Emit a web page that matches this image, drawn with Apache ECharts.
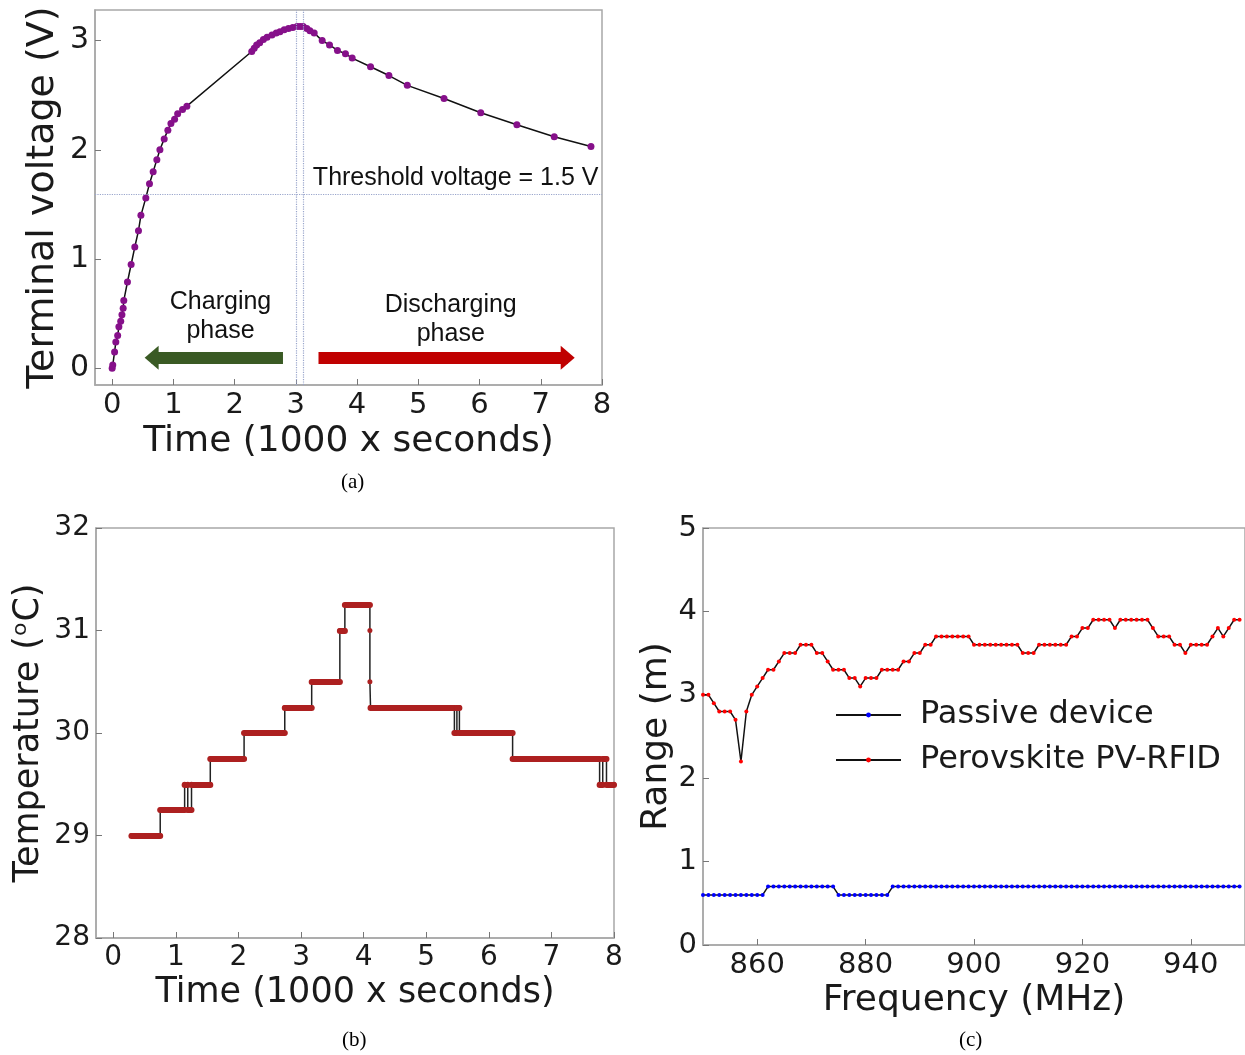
<!DOCTYPE html>
<html>
<head>
<meta charset="UTF-8">
<title>Perovskite PV-RFID</title>
<script src="https://cdn.jsdelivr.net/npm/echarts@6/dist/echarts.min.js"></script>
<style>html,body{margin:0;padding:0;background:#fff;}</style>
</head>
<body>
<div id="main" style="width:1245px;height:1055px"></div>
<script>
// (a) terminal voltage vs time (1000 x s)
var timeA = [0.00, 0.01, 0.04, 0.06, 0.09, 0.11, 0.14, 0.16, 0.18, 0.19, 0.25, 0.31, 0.37, 0.43, 0.47, 0.55, 0.61,
  0.67, 0.73, 0.78, 0.85, 0.91, 0.96, 1.02, 1.07, 1.15, 1.22,
  2.28, 2.32, 2.36, 2.41, 2.47, 2.53, 2.61, 2.68, 2.74, 2.81, 2.88, 2.95, 3.02, 3.07, 3.12,
  3.18, 3.23, 3.30, 3.43, 3.55, 3.68, 3.81, 3.92, 4.22, 4.52, 4.82, 5.42, 6.02, 6.61, 7.22, 7.82];
var voltA = [0.00, 0.03, 0.15, 0.24, 0.30, 0.38, 0.43, 0.49, 0.55, 0.62, 0.79, 0.95, 1.11, 1.26, 1.40, 1.56, 1.69,
  1.80, 1.91, 2.00, 2.10, 2.18, 2.24, 2.28, 2.33, 2.37, 2.40,
  2.90, 2.93, 2.96, 2.98, 3.01, 3.03, 3.05, 3.07, 3.08, 3.10, 3.11, 3.12, 3.13, 3.13, 3.13,
  3.11, 3.09, 3.07, 3.00, 2.96, 2.91, 2.88, 2.84, 2.76, 2.68, 2.59, 2.47, 2.34, 2.23, 2.12, 2.03];
var thresholdLine = 1.59;
var phaseLines = [3.00, 3.12];
var chargeArrow = [2.79, 0.645, 0.096];     // tail t, head t, voltage
var dischargeArrow = [3.37, 7.44, 0.096];

// (b) temperature steps (path vertices)
var timeB = [0.29, 0.75, 0.75, 1.14, 1.14, 1.19, 1.19, 1.25, 1.25, 1.55,
  1.55, 2.09, 2.09, 2.74, 2.74, 3.17, 3.17, 3.62, 3.62, 3.70,
  3.70, 4.10, 4.10, 4.10, 4.11, 5.45, 5.45, 5.49, 5.49, 5.53,
  5.53, 6.38, 6.38, 7.77, 7.77, 7.82, 7.82, 7.88, 7.88, 8.00];
var tempB = [29.0, 29.0, 29.25, 29.25, 29.5, 29.5, 29.25, 29.25, 29.5, 29.5,
  29.75, 29.75, 30.0, 30.0, 30.25, 30.25, 30.5, 30.5, 31.0, 31.0,
  31.25, 31.25, 31.0, 30.5, 30.25, 30.25, 30.0, 30.0, 30.25, 30.25,
  30.0, 30.0, 29.75, 29.75, 29.5, 29.5, 29.75, 29.75, 29.5, 29.5];

// (c) read range vs frequency, 1 MHz steps from 850 MHz
var freqStart = 850;
var passive = [0.6, 0.6, 0.6, 0.6, 0.6, 0.6, 0.6, 0.6, 0.6, 0.6, 0.6, 0.6,
  0.7, 0.7, 0.7, 0.7, 0.7, 0.7, 0.7, 0.7, 0.7, 0.7, 0.7, 0.7, 0.7,
  0.6, 0.6, 0.6, 0.6, 0.6, 0.6, 0.6, 0.6, 0.6, 0.6,
  0.7, 0.7, 0.7, 0.7, 0.7, 0.7, 0.7, 0.7, 0.7, 0.7, 0.7, 0.7, 0.7, 0.7, 0.7, 0.7, 0.7, 0.7, 0.7, 0.7,
  0.7, 0.7, 0.7, 0.7, 0.7, 0.7, 0.7, 0.7, 0.7, 0.7, 0.7, 0.7, 0.7, 0.7, 0.7, 0.7, 0.7, 0.7, 0.7, 0.7,
  0.7, 0.7, 0.7, 0.7, 0.7, 0.7, 0.7, 0.7, 0.7, 0.7, 0.7, 0.7, 0.7, 0.7, 0.7, 0.7, 0.7, 0.7, 0.7, 0.7,
  0.7, 0.7, 0.7, 0.7, 0.7];
var perovskite = [3.0, 3.0, 2.9, 2.8, 2.8, 2.8, 2.7, 2.2, 2.8, 3.0,
  3.1, 3.2, 3.3, 3.3, 3.4, 3.5, 3.5, 3.5, 3.6, 3.6,
  3.6, 3.5, 3.5, 3.4, 3.3, 3.3, 3.3, 3.2, 3.2, 3.1,
  3.2, 3.2, 3.2, 3.3, 3.3, 3.3, 3.3, 3.4, 3.4, 3.5,
  3.5, 3.6, 3.6, 3.7, 3.7, 3.7, 3.7, 3.7, 3.7, 3.7,
  3.6, 3.6, 3.6, 3.6, 3.6, 3.6, 3.6, 3.6, 3.6, 3.5,
  3.5, 3.5, 3.6, 3.6, 3.6, 3.6, 3.6, 3.6, 3.7, 3.7,
  3.8, 3.8, 3.9, 3.9, 3.9, 3.9, 3.8, 3.9, 3.9, 3.9,
  3.9, 3.9, 3.9, 3.8, 3.7, 3.7, 3.7, 3.6, 3.6, 3.5,
  3.6, 3.6, 3.6, 3.6, 3.7, 3.8, 3.7, 3.8, 3.9, 3.9];

var tickA = [0, 1, 2, 3, 4, 5, 6, 7, 8];
var tickAy = [0, 1, 2, 3];
var tickC = [860, 880, 900, 920, 940];

var FONT = 'DejaVu Sans';
var frame = '#a8a8a8';

var chart = echarts.init(document.getElementById('main'), null, {renderer: 'canvas'});

function zip(xs, ys) {
  return xs.map(function (x, i) { return [x, ys[i]]; });
}
var dataA = zip(timeA, voltA);
var dataB = zip(timeB, tempB);
var freq = passive.map(function (v, i) { return freqStart + i; });
var dataPassive = zip(freq, passive);
var dataPerov = zip(freq, perovskite);

// red plateaus of (b): horizontal pieces of the path
var plateausB = [];
for (var i = 0; i < dataB.length - 1; i++) {
  if (tempB[i] === tempB[i + 1] && timeB[i] !== timeB[i + 1]) {
    plateausB.push({coords: [dataB[i], dataB[i + 1]]});
  }
}

function xAx(grid, min, max, fs, name, gap, ticks) {
  var a = {
    type: 'value', gridIndex: grid, min: min, max: max,
    name: name, nameLocation: 'middle', nameGap: gap,
    nameTextStyle: {fontFamily: FONT, fontSize: fs + 7, color: '#1a1a1a'},
    axisLine: {onZero: false, lineStyle: {color: frame, width: 1.5}},
    axisTick: {inside: true, length: 6, lineStyle: {color: '#777'}},
    axisLabel: {fontFamily: FONT, fontSize: fs, color: '#1a1a1a', margin: 6},
    splitLine: {show: false}
  };
  if (ticks) {
    a.axisTick.customValues = ticks;
    a.axisLabel.customValues = ticks;
  } else {
    a.interval = 1;
  }
  return a;
}
function yAx(grid, min, max, fs, name, gap, ticks, nameFs) {
  var a = xAx(grid, min, max, fs, name, gap, ticks);
  a.nameTextStyle.fontSize = nameFs;
  return a;
}

var option = {
  animation: false,
  backgroundColor: '#fff',
  grid: [
    {left: 95, top: 10, width: 507, height: 375, show: true, borderColor: frame, borderWidth: 1.5},
    {left: 96, top: 528, width: 518, height: 410, show: true, borderColor: frame, borderWidth: 1.5},
    {left: 703, top: 528, width: 549, height: 417, show: true, borderColor: frame, borderWidth: 1.5}
  ],
  xAxis: [
    xAx(0, -0.28, 8, 29, 'Time (1000 x seconds)', 39, tickA),
    xAx(1, -0.276, 8, 28, 'Time (1000 x seconds)', 37, tickA),
    xAx(2, 850, 950, 29, 'Frequency (MHz)', 38, tickC)
  ],
  yAxis: [
    yAx(0, -0.153, 3.28, 30, 'Terminal voltage (V)', 33, tickAy, 38),
    yAx(1, 28, 32, 28, 'Temperature (ᵒC)', 50, null, 35),
    yAx(2, 0, 5, 29, 'Range (m)', 28, null, 36)
  ],
  legend: {
    orient: 'vertical', left: 830, top: 694, itemWidth: 65, itemHeight: 6, itemGap: 13,
    textStyle: {fontFamily: FONT, fontSize: 32, color: '#1a1a1a', padding: [0, 0, 0, 14]},
    data: ['Passive device', 'Perovskite PV-RFID']
  },
  graphic: [
    {type: 'text', left: 341, top: 472, style: {text: '(a)', font: '21px "Liberation Serif"', fill: '#000'}},
    {type: 'text', left: 342, top: 1030, style: {text: '(b)', font: '21px "Liberation Serif"', fill: '#000'}},
    {type: 'text', left: 959, top: 1030, style: {text: '(c)', font: '21px "Liberation Serif"', fill: '#000'}}
  ],
  series: [
    {
      type: 'line', xAxisIndex: 0, yAxisIndex: 0, data: dataA,
      symbol: 'circle', symbolSize: 7, showAllSymbol: true,
      itemStyle: {color: '#86108a'},
      lineStyle: {color: '#111', width: 1.5},
      z: 3,
      markLine: {
        silent: true, symbol: 'none', label: {show: false},
        lineStyle: {type: 'dotted', color: '#9aa6cc', width: 1.2},
        data: [{xAxis: phaseLines[0]}, {xAxis: phaseLines[1]}, {yAxis: thresholdLine}]
      },
      markPoint: {
        symbolSize: 0, silent: true,
        label: {show: true, position: 'inside', formatter: '{b}', color: '#111',
          fontFamily: 'Liberation Sans', fontSize: 25, lineHeight: 29},
        data: [
          {name: 'Threshold voltage = 1.5 V', coord: [5.61, 1.74]},
          {name: 'Charging\nphase', coord: [1.77, 0.47]},
          {name: 'Discharging\nphase', coord: [5.53, 0.45]}
        ]
      }
    },
    {
      type: 'line', xAxisIndex: 0, yAxisIndex: 0, data: [],
      markLine: {
        silent: true, label: {show: false}, symbol: ['none', 'triangle'], symbolSize: [24, 14],
        data: [
          [{coord: [chargeArrow[0], chargeArrow[2]], lineStyle: {color: '#3a5a24', width: 12, type: 'solid'}, itemStyle: {color: '#3a5a24'}},
           {coord: [chargeArrow[1], chargeArrow[2]]}],
          [{coord: [dischargeArrow[0], dischargeArrow[2]], lineStyle: {color: '#c00000', width: 12, type: 'solid'}, itemStyle: {color: '#c00000'}},
           {coord: [dischargeArrow[1], dischargeArrow[2]]}]
        ]
      }
    },
    {
      type: 'line', xAxisIndex: 1, yAxisIndex: 1, data: dataB,
      symbol: 'circle', symbolSize: 5, showAllSymbol: true,
      itemStyle: {color: '#ad2020'},
      lineStyle: {color: '#222', width: 1.5}, z: 2
    },
    {
      type: 'lines', coordinateSystem: 'cartesian2d', xAxisIndex: 1, yAxisIndex: 1,
      data: plateausB, z: 3,
      lineStyle: {color: '#ad2020', width: 6, opacity: 1, cap: 'round'}
    },
    {
      name: 'Passive device', type: 'line', xAxisIndex: 2, yAxisIndex: 2, data: dataPassive,
      symbol: 'circle', symbolSize: 4, showAllSymbol: true,
      itemStyle: {color: '#0000ff'}, lineStyle: {color: '#111', width: 1.5}
    },
    {
      name: 'Perovskite PV-RFID', type: 'line', xAxisIndex: 2, yAxisIndex: 2, data: dataPerov,
      symbol: 'circle', symbolSize: 4, showAllSymbol: true,
      itemStyle: {color: '#ff0000'}, lineStyle: {color: '#111', width: 1.5}
    }
  ]
};
chart.setOption(option);
</script>
</body>
</html>
